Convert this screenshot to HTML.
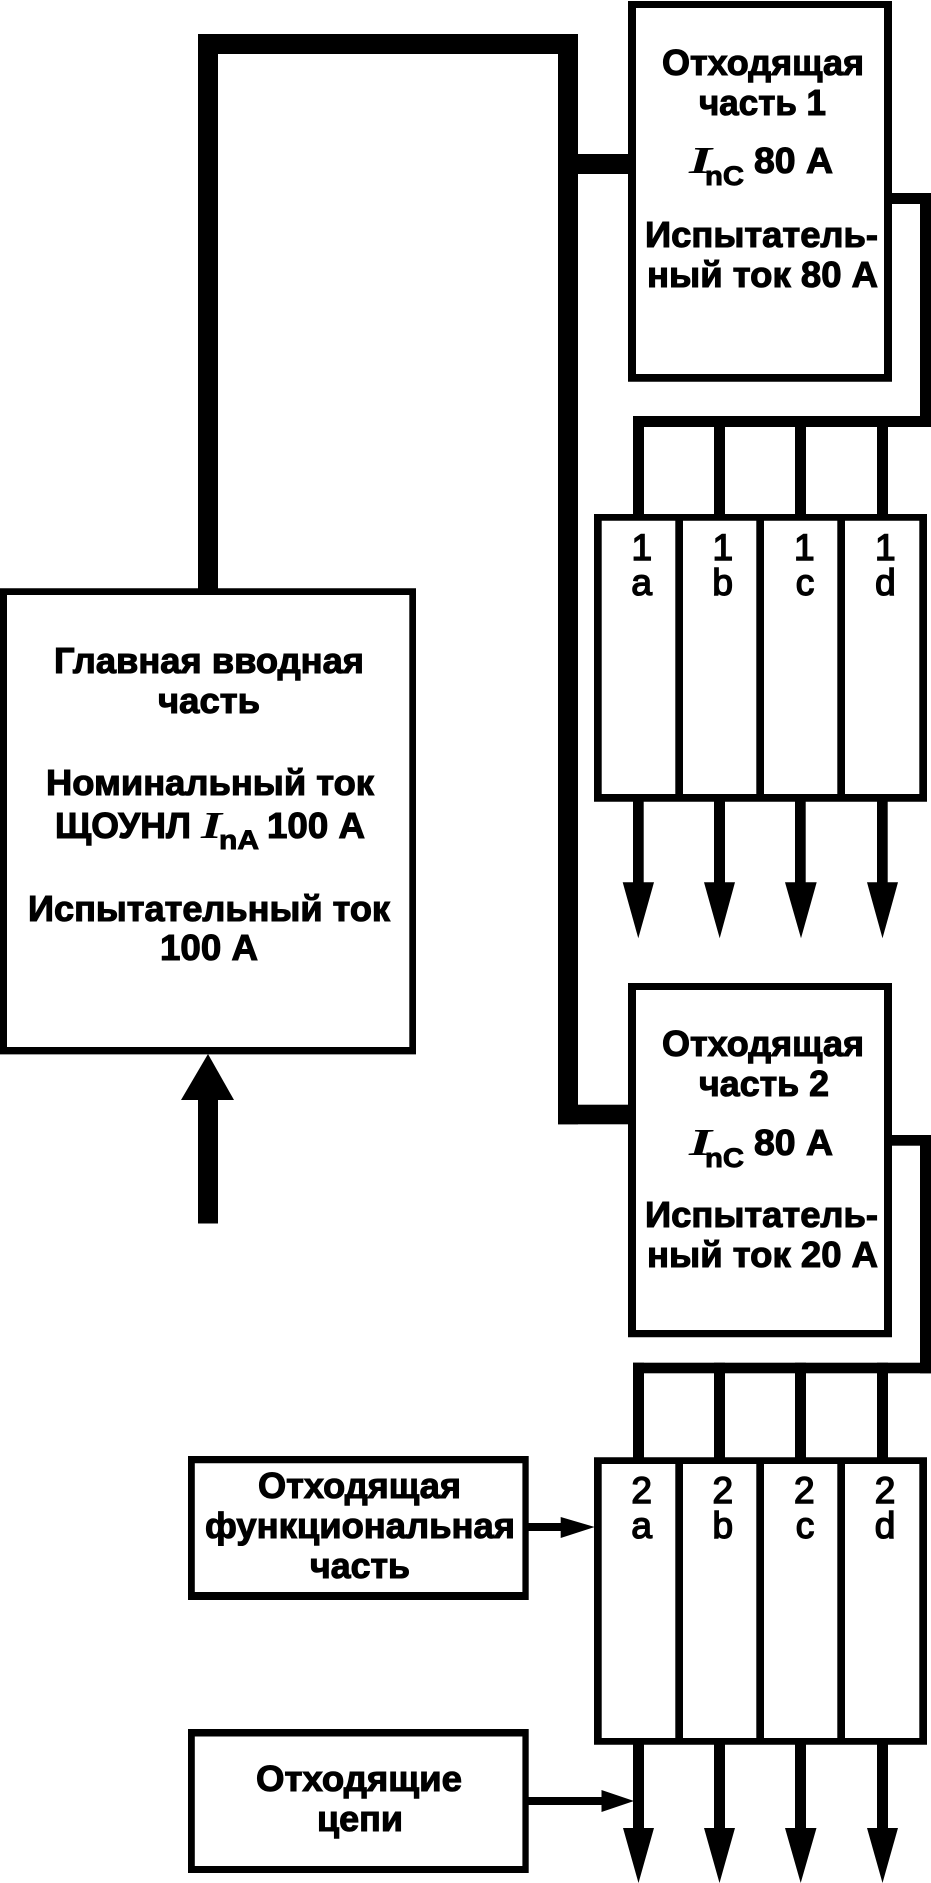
<!DOCTYPE html>
<html><head><meta charset="utf-8"><style>
html,body{margin:0;padding:0;background:#fff}
svg{display:block}
text{font-family:"Liberation Sans",sans-serif;font-weight:bold;font-size:36px;fill:#000;stroke:#000;stroke-width:1.1px}
.r{font-weight:normal;font-size:37px;stroke-width:1.5px;text-anchor:middle}
.i{font-family:"Liberation Serif",serif;font-style:italic;font-weight:bold;font-size:38px;stroke-width:0}
.s{font-size:27px;stroke-width:.9px}
</style></head><body>
<svg xmlns="http://www.w3.org/2000/svg" width="931" height="1883" viewBox="0 0 931 1883">
<rect width="931" height="1883" fill="#fff"/>
<g fill="#000">
<!-- thick bus -->
<rect x="198" y="34" width="20" height="555"/>
<rect x="198" y="34" width="380" height="20"/>
<rect x="558" y="34" width="20" height="1090.3"/>
<rect x="558" y="154" width="72" height="20"/>
<rect x="558" y="1104.7" width="72" height="19.6"/>
<!-- input arrow -->
<rect x="198" y="1095" width="20" height="128.5"/>
<polygon points="208,1054 234,1100 181,1100"/>
<!-- wire 1 -->
<rect x="890" y="193" width="41" height="11"/>
<rect x="920" y="193" width="11" height="234"/>
<rect x="633" y="416" width="298" height="11"/>
<rect x="633" y="416" width="11" height="100"/>
<rect x="714" y="416" width="11" height="100"/>
<rect x="795" y="416" width="11" height="100"/>
<rect x="877" y="416" width="11" height="100"/>
<!-- wire 2 -->
<rect x="890" y="1135" width="41" height="10.7"/>
<rect x="920" y="1135" width="11" height="238.3"/>
<rect x="633" y="1362.7" width="298" height="10.6"/>
<rect x="633" y="1362.7" width="11" height="96"/>
<rect x="714" y="1362.7" width="11" height="96"/>
<rect x="795" y="1362.7" width="11" height="96"/>
<rect x="877" y="1362.7" width="11" height="96"/>
<!-- down arrows panel 1 -->
<rect x="633" y="800" width="10.7" height="85"/>
<rect x="714" y="800" width="11" height="85"/>
<rect x="795" y="800" width="10.7" height="85"/>
<rect x="877" y="800" width="10.7" height="85"/>
<polygon points="622.7,882.3 654,882.3 638.3,938.3"/>
<polygon points="704,882.3 735,882.3 719.7,938.3"/>
<polygon points="785,882.3 816.7,882.3 801,938.3"/>
<polygon points="867,882.3 898,882.3 882.5,938.3"/>
<!-- down arrows panel 2 -->
<rect x="633" y="1743" width="11" height="88"/>
<rect x="714" y="1743" width="11" height="88"/>
<rect x="795" y="1743" width="11" height="88"/>
<rect x="877" y="1743" width="11" height="88"/>
<polygon points="623,1828 654,1828 638.5,1883"/>
<polygon points="704,1828 735,1828 719.5,1883"/>
<polygon points="785,1828 816.5,1828 800.7,1883"/>
<polygon points="867,1828 898,1828 882.5,1883"/>
<!-- side arrows -->
<rect x="527" y="1523" width="36" height="8"/>
<polygon points="560.7,1517 594.7,1527 560.7,1538"/>
<rect x="527" y="1797" width="76" height="8"/>
<polygon points="601.5,1790 634,1801 601.5,1812"/>
</g>
<!-- boxes -->
<path fill-rule="evenodd" fill="#000" d="M628 1H892V381.7H628Z M636 8V374H884V8Z"/>
<path fill-rule="evenodd" fill="#000" d="M628 983H892V1337.3H628Z M636 990V1330H884V990Z"/>
<path fill-rule="evenodd" fill="#000" d="M0 588.2H416V1054.4H0Z M7 595V1047H409.3V595Z"/>
<path fill-rule="evenodd" fill="#000" d="M188 1456H528.7V1600H188Z M194.8 1463.3V1592H522.4V1463.3Z"/>
<path fill-rule="evenodd" fill="#000" d="M188 1729H528.7V1873H188Z M194.8 1736.5V1866H522.4V1736.5Z"/>
<!-- panels -->
<path fill-rule="evenodd" fill="#000" d="M594 514H927V801.7H594Z M601.7 520.7V794H675.3V520.7Z M683 520.7V794H756.3V520.7Z M764 520.7V794H837.3V520.7Z M845 520.7V794H919.3V520.7Z"/>
<path fill-rule="evenodd" fill="#000" d="M594 1457.3H927V1744.7H594Z M601.7 1464V1738H675.3V1464Z M683 1464V1738H756.3V1464Z M764 1464V1738H837.3V1464Z M845 1464V1738H919.3V1464Z"/>
<!-- box 1 text -->
<text x="662" y="75" textLength="202" lengthAdjust="spacingAndGlyphs">Отходящая</text>
<text x="699" y="115" textLength="127" lengthAdjust="spacingAndGlyphs">часть 1</text>
<text class="i" x="689" y="173" textLength="23" lengthAdjust="spacingAndGlyphs">I</text>
<text class="s" x="705" y="185" textLength="39" lengthAdjust="spacingAndGlyphs">nC</text>
<text x="754" y="173" textLength="79" lengthAdjust="spacingAndGlyphs">80 А</text>
<text x="645" y="247" textLength="233" lengthAdjust="spacingAndGlyphs">Испытатель-</text>
<text x="647" y="287" textLength="231" lengthAdjust="spacingAndGlyphs">ный ток 80 А</text>
<!-- box 2 text -->
<text x="662" y="1056" textLength="202" lengthAdjust="spacingAndGlyphs">Отходящая</text>
<text x="699" y="1096" textLength="130" lengthAdjust="spacingAndGlyphs">часть 2</text>
<text class="i" x="689" y="1155" textLength="23" lengthAdjust="spacingAndGlyphs">I</text>
<text class="s" x="705" y="1167" textLength="39" lengthAdjust="spacingAndGlyphs">nC</text>
<text x="754" y="1155" textLength="79" lengthAdjust="spacingAndGlyphs">80 А</text>
<text x="645" y="1227" textLength="233" lengthAdjust="spacingAndGlyphs">Испытатель-</text>
<text x="647" y="1267" textLength="231" lengthAdjust="spacingAndGlyphs">ный ток 20 А</text>
<!-- main box text -->
<text x="54" y="673" textLength="310" lengthAdjust="spacingAndGlyphs">Главная вводная</text>
<text x="158" y="713" textLength="102" lengthAdjust="spacingAndGlyphs">часть</text>
<text x="46" y="795" textLength="328" lengthAdjust="spacingAndGlyphs">Номинальный ток</text>
<text x="55" y="838" textLength="136" lengthAdjust="spacingAndGlyphs">ЩОУНЛ</text>
<text class="i" x="201" y="838" textLength="21" lengthAdjust="spacingAndGlyphs">I</text>
<text class="s" x="219" y="849" textLength="40" lengthAdjust="spacingAndGlyphs">nA</text>
<text x="267" y="838" textLength="98" lengthAdjust="spacingAndGlyphs">100 А</text>
<text x="28" y="921" textLength="362" lengthAdjust="spacingAndGlyphs">Испытательный ток</text>
<text x="160" y="960" textLength="98" lengthAdjust="spacingAndGlyphs">100 А</text>
<!-- small boxes text -->
<text x="258" y="1498" textLength="203" lengthAdjust="spacingAndGlyphs">Отходящая</text>
<text x="205" y="1538" textLength="310" lengthAdjust="spacingAndGlyphs">функциональная</text>
<text x="310" y="1578" textLength="100" lengthAdjust="spacingAndGlyphs">часть</text>
<text x="256" y="1791" textLength="206" lengthAdjust="spacingAndGlyphs">Отходящие</text>
<text x="317" y="1831" textLength="86" lengthAdjust="spacingAndGlyphs">цепи</text>
<!-- panel labels -->
<text class="r" x="641.8" y="560">1</text>
<text class="r" x="722.8" y="560">1</text>
<text class="r" x="804.3" y="560">1</text>
<text class="r" x="885.3" y="560">1</text>
<text class="r" x="641.7" y="595">a</text>
<text class="r" x="722.7" y="595">b</text>
<text class="r" x="805" y="595">c</text>
<text class="r" x="885.4" y="595">d</text>
<text class="r" x="641.7" y="1503">2</text>
<text class="r" x="722.8" y="1503">2</text>
<text class="r" x="804.3" y="1503">2</text>
<text class="r" x="885" y="1503">2</text>
<text class="r" x="641.7" y="1538">a</text>
<text class="r" x="722.8" y="1538">b</text>
<text class="r" x="805" y="1538">c</text>
<text class="r" x="885" y="1538">d</text>
</svg>
</body></html>
